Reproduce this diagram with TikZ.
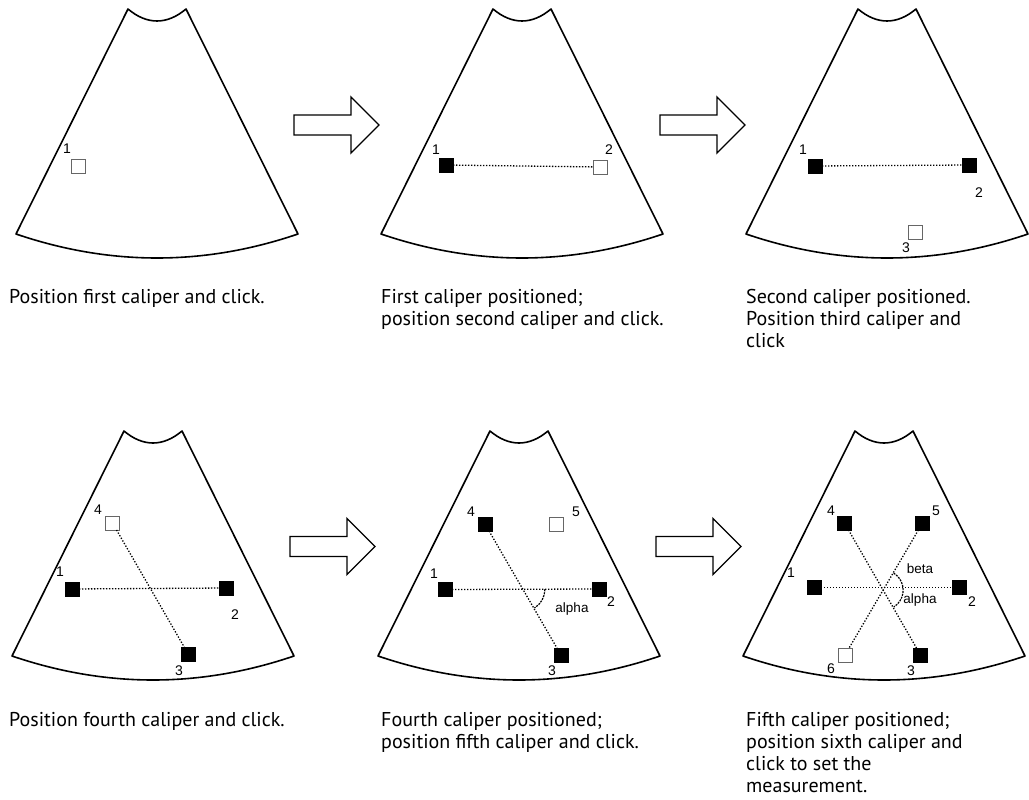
\documentclass[tikz,border=0pt]{standalone}
\usepackage{fontspec}
\setmainfont{PT Sans}
\newfontfamily\labelfont{Liberation Sans}
\usetikzlibrary{calc}
\tikzset{
  outline/.style={line width=1.6pt, line join=round},
  fan/.pic={
    \draw[outline] (-29,0) .. controls (-10,16) and (10,16) .. (29,0)
      -- (141,225) .. controls (47,257) and (-47,257) .. (-141,225) -- cycle;
  },
  blockarrow/.pic={
    \draw[line width=1.3pt, line join=miter] (0,-10) -- (57,-10) -- (57,-28) -- (85,0)
      -- (57,28) -- (57,10) -- (0,10) -- cycle;
  },
  marker/.style={minimum size=14pt, inner sep=0pt, outer sep=0pt, line width=0.8pt},
  setmk/.style={marker, draw=black, fill=black},
  freemk/.style={marker, draw=black!60, fill=white},
  num/.style={font=\labelfont\fontsize{14}{14}\selectfont, inner sep=0pt},
  anglabel/.style={font=\labelfont\fontsize{13.5}{13.5}\selectfont, inner sep=0pt},
  link/.style={line width=1.3pt, dash pattern=on 1.3pt off 1.7pt},
  anglearc/.style={line width=1.2pt, dash pattern=on 2pt off 1pt},
  caption/.style={font=\fontsize{20}{22}\selectfont, align=left, anchor=north west, inner sep=0pt}
}
\begin{document}
\begin{tikzpicture}[x=1pt,y=-1pt]
\useasboundingbox (0,0) rectangle (1029,800);
\fill[white] (0,0) rectangle (1029,800);

% fans
\pic at (157,9) {fan};
\pic at (522,9) {fan};
\pic at (887,9) {fan};
\pic at (153,431) {fan};
\pic at (519,431) {fan};
\pic at (884,431) {fan};

% step arrows
\pic at (294,125) {blockarrow};
\pic at (660,125) {blockarrow};
\pic at (290,546.5) {blockarrow};
\pic at (656,546.5) {blockarrow};

% panel 1
\node[freemk] (a1) at (78,166) {};
\node[num] (la1) at (67,149) {1};

% panel 2
\node[setmk] (b1) at (446,165) {};
\node[freemk] (b2) at (600.5,167) {};
\node[num] (lb1) at (436,149.5) {1};
\node[num] (lb2) at (609,150) {2};
\draw[link] (b1) -- (b2);

% panel 3
\node[setmk] (c1) at (815,166) {};
\node[setmk] (c2) at (969,165) {};
\node[freemk] (c3) at (915.5,232) {};
\node[num] (lc1) at (803,150) {1};
\node[num] (lc2) at (979,193) {2};
\node[num] (lc3) at (906,248) {3};
\draw[link] (c1) -- (c2);

% panel 4
\node[freemk] (d4) at (112.5,523) {};
\node[setmk] (d1) at (72,589) {};
\node[setmk] (d2) at (226,588) {};
\node[setmk] (d3) at (188.5,654.5) {};
\node[num] (ld4) at (98,510) {4};
\node[num] (ld1) at (60,572) {1};
\node[num] (ld2) at (235,615) {2};
\node[num] (ld3) at (179,671) {3};
\draw[link] (d1) -- (d2);
\draw[link] (d4) -- (d3);

% panel 5
\node[setmk] (e4) at (485,524) {};
\node[freemk] (e5) at (556,524) {};
\node[setmk] (e1) at (445,589.5) {};
\node[setmk] (e2) at (599,589) {};
\node[setmk] (e3) at (561,655) {};
\node[num] (le4) at (471,512) {4};
\node[num] (le5) at (576,512) {5};
\node[num] (le1) at (434,574) {1};
\node[num] (le2) at (611,602) {2};
\node[num] (le3) at (552,671) {3};
\draw[link] (e1) -- (e2);
\draw[link] (e4) -- (e3);
\coordinate (ex) at (intersection of e1--e2 and e4--e3);
\draw[anglearc] ([shift={(0:22)}]ex) arc[start angle=0, end angle=58, radius=22];
\node[anglabel] (lea) at (572,609) {alpha};

% panel 6
\node[setmk] (f4) at (844.5,523) {};
\node[setmk] (f5) at (922.5,523) {};
\node[setmk] (f1) at (814,587.5) {};
\node[setmk] (f2) at (959,587.5) {};
\node[setmk] (f3) at (920.5,655) {};
\node[freemk] (f6) at (845,655) {};
\node[num] (lf4) at (831,511) {4};
\node[num] (lf5) at (936,511) {5};
\node[num] (lf1) at (791,573) {1};
\node[num] (lf2) at (972,602) {2};
\node[num] (lf6) at (831,669) {6};
\node[num] (lf3) at (911,671) {3};
\draw[link] (f1) -- (f2);
\draw[link] (f4) -- (f3);
\draw[link] (f5) -- (f6);
\coordinate (fx) at (intersection of f4--f3 and f5--f6);
\draw[anglearc] ([shift={(-58:20)}]fx) arc[start angle=-58, end angle=58, radius=20];
\node[anglabel] (lfb) at (920,569) {beta};
\node[anglabel] (lfa) at (920,600) {alpha};

% captions
\node[caption] (t1) at (9,289) {Position first caliper and click.};
\node[caption] (t2) at (381,289) {First caliper positioned;\\position second caliper and click.};
\node[caption] (t3) at (746,289) {Second caliper positioned.\\Position third caliper and\\click};
\node[caption] (t4) at (9,712) {Position fourth caliper and click.};
\node[caption] (t5) at (381,712) {Fourth caliper positioned;\\position fifth caliper and click.};
\node[caption] (t6) at (746,712) {Fifth caliper positioned;\\position sixth caliper and\\click to set the\\measurement.};
\end{tikzpicture}
\end{document}
